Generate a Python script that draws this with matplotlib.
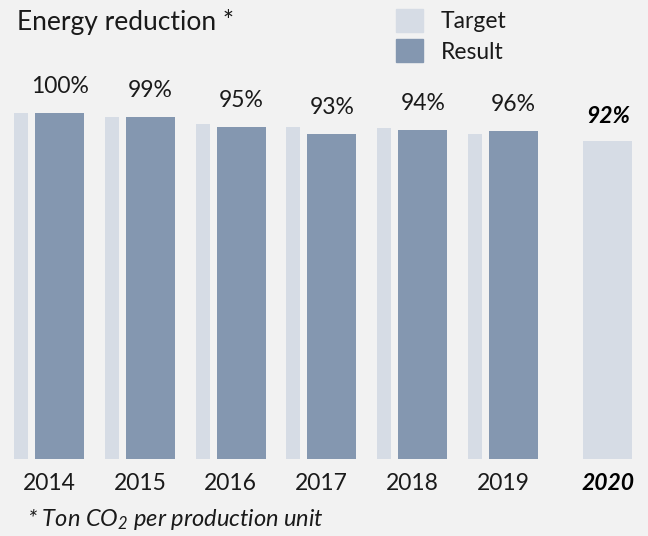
import matplotlib
matplotlib.use("Agg")
import matplotlib.pyplot as plt
from matplotlib.patches import Patch

# values (bar heights in % of 2014)
years = ["2014", "2015", "2016", "2017", "2018", "2019"]
target = [100, 98.8, 96.8, 96.0, 95.7, 93.9]
result = [100, 98.8, 96.0, 93.9, 95.1, 94.8]
result_labels = ["100%", "99%", "95%", "93%", "94%", "96%"]
goal_year = "2020"
goal_value = 91.9
goal_label = "92%"

bg = "#f2f2f2"
c_target = "#d6dce5"
c_result = "#8497b0"
txt = "#1a1a1a"

plt.rcParams["font.family"] = ["Lato", "DejaVu Sans"]
plt.rcParams["mathtext.fontset"] = "custom"
plt.rcParams["mathtext.rm"] = "Lato:italic"
plt.rcParams["mathtext.it"] = "Lato:italic"

fig = plt.figure(figsize=(6.48, 5.36), dpi=100, facecolor=bg)
ax = fig.add_axes([0, 77 / 536, 1, 459 / 536])
ax.set_facecolor(bg)
ax.set_xlim(-0.54, 6.597)
ax.set_ylim(0, 132.66)
ax.axis("off")

xs = list(range(len(years)))
ax.bar([x - 0.308 for x in xs], target, width=0.154, color=c_target)
ax.bar([x + 0.116 for x in xs], result, width=0.54, color=c_result)
goal_x = len(years) + 0.155
ax.bar([goal_x], [goal_value], width=0.54, color=c_target)

for x, v, lab, yr in zip(xs, result, result_labels, years):
    ax.text(x + 0.116, v + 7.7, lab, ha="center", va="center",
            fontsize=16.5, color=txt)
    ax.text(x, -7.0, yr, ha="center", va="center", fontsize=16.5,
            color=txt, clip_on=False)

ax.text(goal_x, goal_value + 7.0, goal_label, ha="center", va="center",
        fontsize=16.5, fontweight="bold", fontstyle="italic", color="black")
ax.text(goal_x, -7.0, goal_year, ha="center", va="center", fontsize=16.5,
        fontweight="bold", fontstyle="italic", color="black", clip_on=False)

fig.text(17 / 648, 1 - 22 / 536, "Energy reduction *", ha="left",
         va="center", fontsize=19, color=txt)
fig.text(27 / 648, 1 - 519 / 536, r"* Ton CO$_2$ per production unit",
         ha="left", va="center", fontsize=17, fontstyle="italic", color=txt)

handles = [Patch(color=c_target, label="Target"),
           Patch(color=c_result, label="Result")]
ax.legend(handles=handles, loc="upper left", frameon=False,
          bbox_to_anchor=(396 / 648, 1 - 9 / 536),
          bbox_transform=fig.transFigure, fontsize=16.5,
          handlelength=1.18, handleheight=1.18, handletextpad=0.78,
          labelspacing=0.3, borderpad=0, borderaxespad=0,
          labelcolor=txt)

fig.savefig("out.png", dpi=100, facecolor=bg)
